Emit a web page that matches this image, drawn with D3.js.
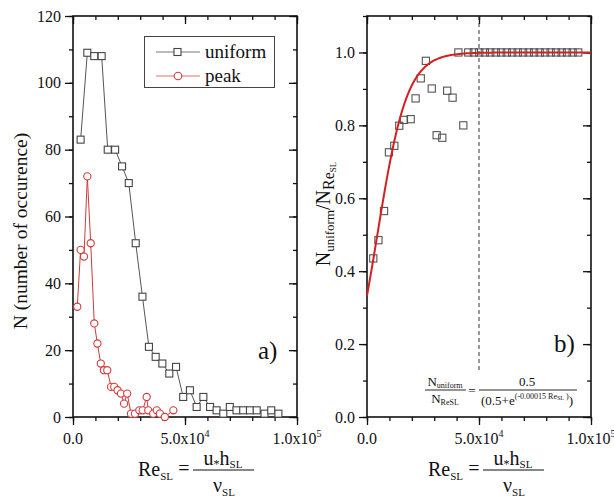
<!DOCTYPE html>
<html lang="en">
<head>
<meta charset="UTF-8">
<title>Re_SL occurrence</title>
<script src="https://d3js.org/d3.v7.min.js"></script>
<style>
  body { margin: 0; background: #fff; }
  svg text { font-family: "Liberation Serif", "Times New Roman", serif; fill: #111; }
  .tk .domain { display: none; }
  .tk line { stroke: #111; stroke-width: 1.3; }
  .frame { fill: none; stroke: #111; stroke-width: 1.6; }
</style>
</head>
<body>
<svg width="614" height="501" font-family="Liberation Serif, serif"></svg>
<script>
// panel a) -- counts per Re_SL bin
const uniformX = [3.4e3, 6.4e3, 9.5e3, 12.8e3, 15.5e3, 18.8e3, 21.9e3, 24.9e3, 28.0e3, 31.0e3,
                  33.9e3, 36.9e3, 39.9e3, 43.0e3, 46.0e3, 49.2e3, 52.2e3, 55.2e3, 58.2e3, 61.2e3,
                  64.1e3, 67.1e3, 70.0e3, 73.0e3, 76.0e3, 79.0e3, 82.0e3, 85.5e3, 88.5e3, 91.7e3];
const uniformN = [83, 109, 108, 108, 80, 80, 75, 70, 52, 36,
                  21, 18, 16, 13, 15, 6, 8, 3, 6, 3,
                  2, 1, 3, 2, 2, 2, 2, 1, 2, 1];
const peakX = [1.9e3, 3.4e3, 4.9e3, 6.4e3, 7.9e3, 9.5e3, 10.9e3, 12.4e3, 13.8e3, 15.3e3,
               17.0e3, 18.4e3, 19.9e3, 21.4e3, 22.8e3, 24.2e3, 25.9e3, 27.7e3, 29.6e3, 31.1e3,
               32.9e3, 33.6e3, 35.8e3, 37.4e3, 38.8e3, 41.0e3, 44.8e3];
const peakN = [33, 50, 48, 72, 52, 28, 22, 16, 14, 14,
               9, 9, 8, 7, 4, 7, 1, 1, 2, 2,
               6, 2, 1, 2, 1, 0, 2];

// panel b) -- ratio N_uniform / N_ReSL
const ratioX = [2.8e3, 5.1e3, 7.6e3, 9.8e3, 12.2e3, 14.4e3, 16.5e3, 19.5e3, 21.7e3, 24.0e3,
                26.3e3, 28.9e3, 31.1e3, 33.6e3, 35.8e3, 38.2e3, 40.8e3, 43.0e3, 45.2e3, 47.7e3,
                50.1e3, 52.6e3, 55.0e3, 57.5e3, 59.9e3, 62.4e3, 64.8e3, 67.3e3, 69.7e3, 72.2e3,
                74.6e3, 77.1e3, 79.5e3, 82.0e3, 84.4e3, 86.9e3, 89.3e3, 91.8e3, 94.3e3];
const ratioY = [0.435, 0.485, 0.565, 0.726, 0.744, 0.799, 0.815, 0.817, 0.874, 0.929,
                0.977, 0.901, 0.773, 0.766, 0.895, 0.876, 1.0, 0.80, 1.0, 1.0,
                1.0, 1.0, 1.0, 1.0, 1.0, 1.0, 1.0, 1.0, 1.0, 1.0,
                1.0, 1.0, 1.0, 1.0, 1.0, 1.0, 1.0, 1.0, 1.0];
// fitted curve printed on the chart: 0.5 / (0.5 + exp(-0.00015 Re))
const fitA = 0.5, fitK = -0.00015;
const thresholdRe = 5e4;

const xTicks = [0, 5e4, 1e5];
const xMinor = d3.range(0, 1e5 + 1, 1e4);
const yTicksA = [0, 20, 40, 60, 80, 100, 120];
const yMinorA = d3.range(0, 121, 10);
const yTicksB = [0, 0.2, 0.4, 0.6, 0.8, 1.0];
const yMinorB = d3.range(0, 1.1001, 0.1);

const svg = d3.select("svg");
const plotTop = 16, plotBottom = 417;

const xA = d3.scaleLinear().domain([0, 1e5]).range([73, 297]);
const yA = d3.scaleLinear().domain([0, 120]).range([plotBottom, plotTop]);
const xB = d3.scaleLinear().domain([0, 1e5]).range([367, 591]);
const yB = d3.scaleLinear().domain([0, 1.1]).range([plotBottom, plotTop]);

function xLabel(t, v) {
  if (v === 0) { t.text("0.0"); return; }
  const e = Math.floor(Math.log10(v));
  t.text((v / Math.pow(10, e)).toFixed(1) + "x10");
  t.append("tspan").attr("dy", -7).attr("font-size", 10).text(e);
}

function axes(x, y, yMajor, yMinor, yFmt) {
  const [x0, x1] = x.range();
  const tick = () => svg.append("g").attr("class", "tk");
  // bottom (out) and top (in)
  tick().attr("transform", `translate(0,${plotBottom})`)
    .call(d3.axisBottom(x).tickValues(xMinor).tickSize(4).tickFormat(""));
  tick().attr("transform", `translate(0,${plotBottom})`)
    .call(d3.axisBottom(x).tickValues(xTicks).tickSize(8).tickFormat(""));
  tick().attr("transform", `translate(0,${plotTop})`)
    .call(d3.axisBottom(x).tickValues(xMinor).tickSize(4).tickFormat(""));
  tick().attr("transform", `translate(0,${plotTop})`)
    .call(d3.axisBottom(x).tickValues(xTicks).tickSize(8).tickFormat(""));
  // left (out) and right (in)
  tick().attr("transform", `translate(${x0},0)`)
    .call(d3.axisLeft(y).tickValues(yMinor).tickSize(4).tickFormat(""));
  tick().attr("transform", `translate(${x0},0)`)
    .call(d3.axisLeft(y).tickValues(yMajor).tickSize(8).tickFormat(""));
  tick().attr("transform", `translate(${x1},0)`)
    .call(d3.axisLeft(y).tickValues(yMinor).tickSize(4).tickFormat(""));
  tick().attr("transform", `translate(${x1},0)`)
    .call(d3.axisLeft(y).tickValues(yMajor).tickSize(8).tickFormat(""));

  svg.append("rect").attr("class", "frame")
    .attr("x", x0).attr("y", plotTop).attr("width", x1 - x0).attr("height", plotBottom - plotTop);

  svg.append("g").selectAll("text").data(xTicks).join("text")
    .attr("x", d => x(d)).attr("y", 444).attr("text-anchor", "middle")
    .attr("font-size", 16)
    .each(function (d) { xLabel(d3.select(this), d); });

  svg.append("g").selectAll("text").data(yMajor).join("text")
    .attr("x", x0 - 12).attr("y", d => y(d)).attr("dy", "0.35em")
    .attr("text-anchor", "end").attr("font-size", 16)
    .text(yFmt);
}

// x-axis title: Re_SL = u* h_SL / nu_SL
function reLabel(x0) {
  const g = svg.append("g").attr("transform", `translate(${x0},0)`);
  const t = g.append("text").attr("x", 0).attr("y", 476).attr("font-size", 20);
  t.append("tspan").text("Re");
  t.append("tspan").attr("font-size", 11).attr("dy", 4).text("SL");
  g.append("text").attr("x", 46).attr("y", 475).attr("font-size", 20)
    .attr("text-anchor", "middle").text("=");
  g.append("line").attr("x1", 55).attr("x2", 116).attr("y1", 470).attr("y2", 470)
    .attr("stroke", "#111").attr("stroke-width", 1.2);
  const n = g.append("text").attr("x", 85).attr("y", 465).attr("font-size", 20)
    .attr("text-anchor", "middle");
  n.append("tspan").text("u");
  n.append("tspan").attr("font-size", 12).attr("dy", 3).text("*");
  n.append("tspan").attr("dy", -3).text("h");
  n.append("tspan").attr("font-size", 11).attr("dy", 3).text("SL");
  const d = g.append("text").attr("x", 86).attr("y", 492).attr("font-size", 20)
    .attr("text-anchor", "middle");
  d.append("tspan").text("\u03bd");
  d.append("tspan").attr("font-size", 11).attr("dy", 4).text("SL");
}

// ---------- panel a ----------
axes(xA, yA, yTicksA, yMinorA, d3.format("d"));

const uni = uniformX.map((x, i) => [x, uniformN[i]]);
const pk = peakX.map((x, i) => [x, peakN[i]]);
const lineA = d3.line().x(d => xA(d[0])).y(d => yA(d[1]));

svg.append("path").attr("d", lineA(uni)).attr("fill", "none")
  .attr("stroke", "#555").attr("stroke-width", 1);
svg.append("g").selectAll("rect").data(uni).join("rect")
  .attr("x", d => xA(d[0]) - 3.5).attr("y", d => yA(d[1]) - 3.5)
  .attr("width", 7).attr("height", 7)
  .attr("fill", "#fff").attr("stroke", "#444").attr("stroke-width", 1.1);

svg.append("path").attr("d", lineA(pk)).attr("fill", "none")
  .attr("stroke", "#d03a3a").attr("stroke-width", 1);
svg.append("g").selectAll("circle").data(pk).join("circle")
  .attr("cx", d => xA(d[0])).attr("cy", d => yA(d[1])).attr("r", 3.6)
  .attr("fill", "#fff").attr("stroke", "#d03a3a").attr("stroke-width", 1.1);

// legend
const lg = svg.append("g");
lg.append("rect").attr("x", 144.5).attr("y", 36.5).attr("width", 130).attr("height", 51)
  .attr("fill", "#fff").attr("stroke", "#444").attr("stroke-width", 1);
lg.append("line").attr("x1", 156).attr("x2", 200).attr("y1", 52).attr("y2", 52)
  .attr("stroke", "#777").attr("stroke-width", 1);
lg.append("rect").attr("x", 174).attr("y", 48.5).attr("width", 7).attr("height", 7)
  .attr("fill", "#fff").attr("stroke", "#444").attr("stroke-width", 1.1);
lg.append("text").attr("x", 205).attr("y", 58).attr("font-size", 19).text("uniform");
lg.append("line").attr("x1", 156).attr("x2", 200).attr("y1", 76).attr("y2", 76)
  .attr("stroke", "#e07070").attr("stroke-width", 1);
lg.append("circle").attr("cx", 178).attr("cy", 76).attr("r", 3.8)
  .attr("fill", "#fff").attr("stroke", "#d03a3a").attr("stroke-width", 1.1);
lg.append("text").attr("x", 205).attr("y", 82).attr("font-size", 19).text("peak");

svg.append("text").attr("x", 258).attr("y", 359).attr("font-size", 25).text("a)");

svg.append("text")
  .attr("transform", "translate(27,231) rotate(-90)")
  .attr("text-anchor", "middle").attr("font-size", 19.5)
  .text("N (number of occurence)");

reLabel(138);

// ---------- panel b ----------
axes(xB, yB, yTicksB, yMinorB, d3.format(".1f"));

svg.append("line")
  .attr("x1", xB(thresholdRe)).attr("x2", xB(thresholdRe))
  .attr("y1", plotTop).attr("y2", 373)
  .attr("stroke", "#333").attr("stroke-width", 1).attr("stroke-dasharray", "4,3");

const rat = ratioX.map((x, i) => [x, ratioY[i]]);
svg.append("g").selectAll("rect").data(rat).join("rect")
  .attr("x", d => xB(d[0]) - 3.6).attr("y", d => yB(d[1]) - 3.6)
  .attr("width", 7.2).attr("height", 7.2)
  .attr("fill", "none").attr("stroke", "#555").attr("stroke-width", 1.1);

const fit = d3.range(0, 1e5 + 1, 500).map(x => [x, fitA / (fitA + Math.exp(fitK * x))]);
svg.append("path")
  .attr("d", d3.line().x(d => xB(d[0])).y(d => yB(d[1]))(fit))
  .attr("fill", "none").attr("stroke", "#d42020").attr("stroke-width", 2);

svg.append("text").attr("x", 554).attr("y", 352).attr("font-size", 25).text("b)");

// y-axis title N_uniform / N_Re_SL
const yt = svg.append("text")
  .attr("transform", "translate(330,214) rotate(-90)")
  .attr("text-anchor", "middle").attr("font-size", 20);
yt.append("tspan").text("N");
yt.append("tspan").attr("font-size", 13).attr("dy", 4).text("uniform");
yt.append("tspan").attr("dy", -4).text("/N");
yt.append("tspan").attr("font-size", 16).attr("dy", 4).text("Re");
yt.append("tspan").attr("font-size", 9).attr("dy", 2).text("SL");

// formula box
const fg = svg.append("g");
const f1 = fg.append("text").attr("x", 445).attr("y", 386).attr("font-size", 13)
  .attr("text-anchor", "middle");
f1.append("tspan").text("N");
f1.append("tspan").attr("font-size", 8).attr("dy", 2).text("uniform");
fg.append("line").attr("x1", 425).attr("x2", 466).attr("y1", 390).attr("y2", 390)
  .attr("stroke", "#111").attr("stroke-width", 0.9);
const f2 = fg.append("text").attr("x", 445).attr("y", 403).attr("font-size", 13)
  .attr("text-anchor", "middle");
f2.append("tspan").text("N");
f2.append("tspan").attr("font-size", 8).attr("dy", 2).text("ReSL");
fg.append("text").attr("x", 472).attr("y", 395).attr("font-size", 13)
  .attr("text-anchor", "middle").text("=");
fg.append("text").attr("x", 527).attr("y", 386).attr("font-size", 13)
  .attr("text-anchor", "middle").text("0.5");
fg.append("line").attr("x1", 479).attr("x2", 577).attr("y1", 390).attr("y2", 390)
  .attr("stroke", "#111").attr("stroke-width", 0.9);
const f3 = fg.append("text").attr("x", 527).attr("y", 405).attr("font-size", 13)
  .attr("text-anchor", "middle");
f3.append("tspan").text("(0.5+e");
f3.append("tspan").attr("font-size", 8).attr("dy", -6).text("(-0.00015 Re");
f3.append("tspan").attr("font-size", 6).attr("dy", 1).text("SL");
f3.append("tspan").attr("font-size", 8).attr("dy", -1).text(" )");
f3.append("tspan").attr("dy", 6).text(")");

reLabel(428);
</script>
</body>
</html>
